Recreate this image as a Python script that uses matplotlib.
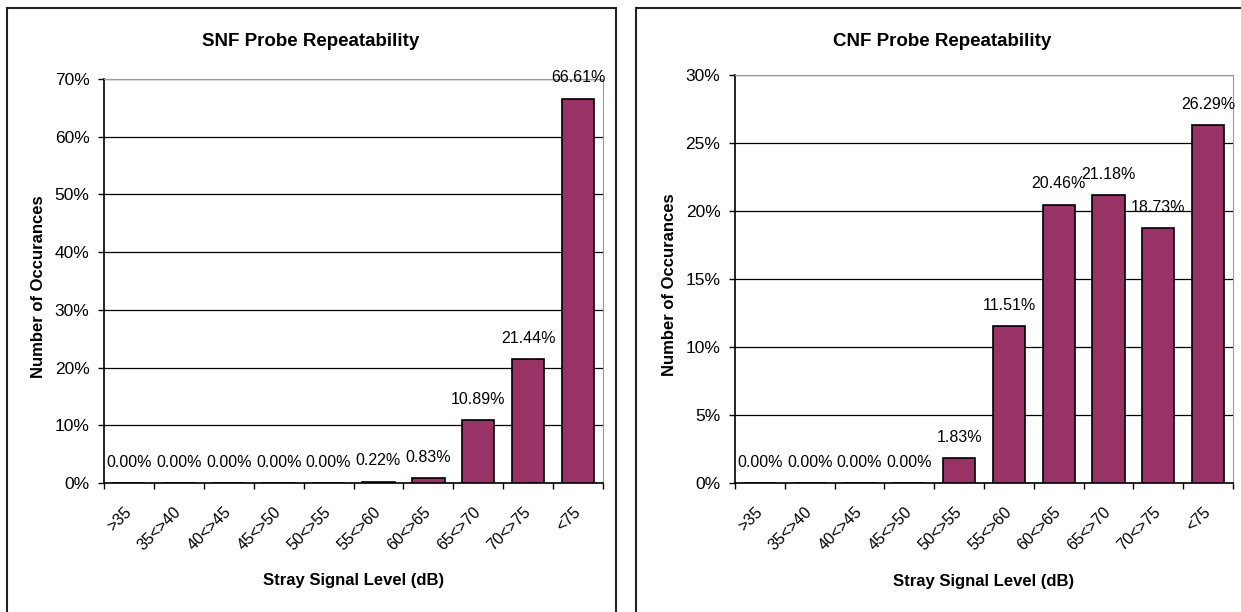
import numpy as np
import matplotlib
matplotlib.use("Agg")
import matplotlib.pyplot as plt
from matplotlib.patches import Rectangle
from matplotlib.ticker import FuncFormatter, FixedLocator

plt.rcParams["font.family"] = ["Liberation Sans", "DejaVu Sans"]

BAR_COLOR = "#993366"

categories = [">35", "35<>40", "40<>45", "45<>50", "50<>55",
              "55<>60", "60<>65", "65<>70", "70<>75", "<75"]

snf_values = [0.00, 0.00, 0.00, 0.00, 0.00, 0.22, 0.83, 10.89, 21.44, 66.61]
cnf_values = [0.00, 0.00, 0.00, 0.00, 1.83, 11.51, 20.46, 21.18, 18.73, 26.29]

snf_ticks = [0, 10, 20, 30, 40, 50, 60, 70]
cnf_ticks = [0, 5, 10, 15, 20, 25, 30]

W, H = 1241, 612
fig = plt.figure(figsize=(W / 100, H / 100), dpi=100)


def px(x0, y_top, x1, y_bot):
    # pixel box -> figure fraction rect
    return [x0 / W, 1 - y_bot / H, (x1 - x0) / W, (y_bot - y_top) / H]


def panel(rect, values, yticks, title, title_x, frame_x0):
    ax = fig.add_axes(rect)
    x = np.arange(len(categories))
    bars = ax.bar(x, values, width=0.65, color=BAR_COLOR,
                  edgecolor="black", linewidth=1.2, zorder=3)

    for b, v in zip(bars, values):
        ax.annotate(f"{v:.2f}%", (b.get_x() + b.get_width() / 2, v),
                    xytext=(0, 15), textcoords="offset points",
                    ha="center", va="center", fontsize=11.5, zorder=4)

    ax.set_xlim(-0.5, len(categories) - 0.5)
    ax.set_ylim(0, yticks[-1])
    ax.set_yticks(yticks)
    ax.yaxis.set_major_formatter(FuncFormatter(lambda v, p: f"{v:.0f}%"))
    ax.grid(axis="y", color="black", linewidth=0.9, zorder=1)

    # labels at the bar centres, tick marks between categories
    ax.set_xticks(x)
    ax.set_xticklabels(categories, rotation=45, ha="right", va="center",
                       rotation_mode="anchor", fontsize=11.5)
    ax.xaxis.set_minor_locator(FixedLocator(np.arange(len(categories) + 1) - 0.5))
    ax.tick_params(axis="x", which="major", length=0, pad=19)
    ax.tick_params(axis="x", which="minor", length=4.5, width=1, direction="out")
    ax.tick_params(axis="y", length=4.5, width=1, pad=6, labelsize=12.5)

    ax.spines["left"].set_linewidth(1.2)
    ax.spines["bottom"].set_linewidth(1.2)
    ax.spines["top"].set_color("#9a9a9a")
    ax.spines["right"].set_color("#9a9a9a")

    ax.set_ylabel("Number of Occurances", fontsize=12, fontweight="bold")
    ax.yaxis.set_label_coords(-0.116, 0.485)
    ax.set_xlabel("Stray Signal Level (dB)", fontsize=12, fontweight="bold")
    ax.xaxis.set_label_coords(0.5, -0.222)

    fig.text(title_x / W, 1 - 42 / H, title, ha="center", va="center",
             fontsize=13.5, fontweight="bold")

    # chart area border
    fig.patches.append(Rectangle((frame_x0 / W, -0.1), 609 / W, 1.1 - 8 / H,
                                 transform=fig.transFigure, fill=False,
                                 edgecolor="#222222", linewidth=1.5))
    return ax


panel(px(104, 79, 603, 483), snf_values, snf_ticks,
      "SNF Probe Repeatability", 311, 7)
panel(px(735, 75, 1233, 483), cnf_values, cnf_ticks,
      "CNF Probe Repeatability", 942, 636)

fig.savefig("out.png", dpi=100)
